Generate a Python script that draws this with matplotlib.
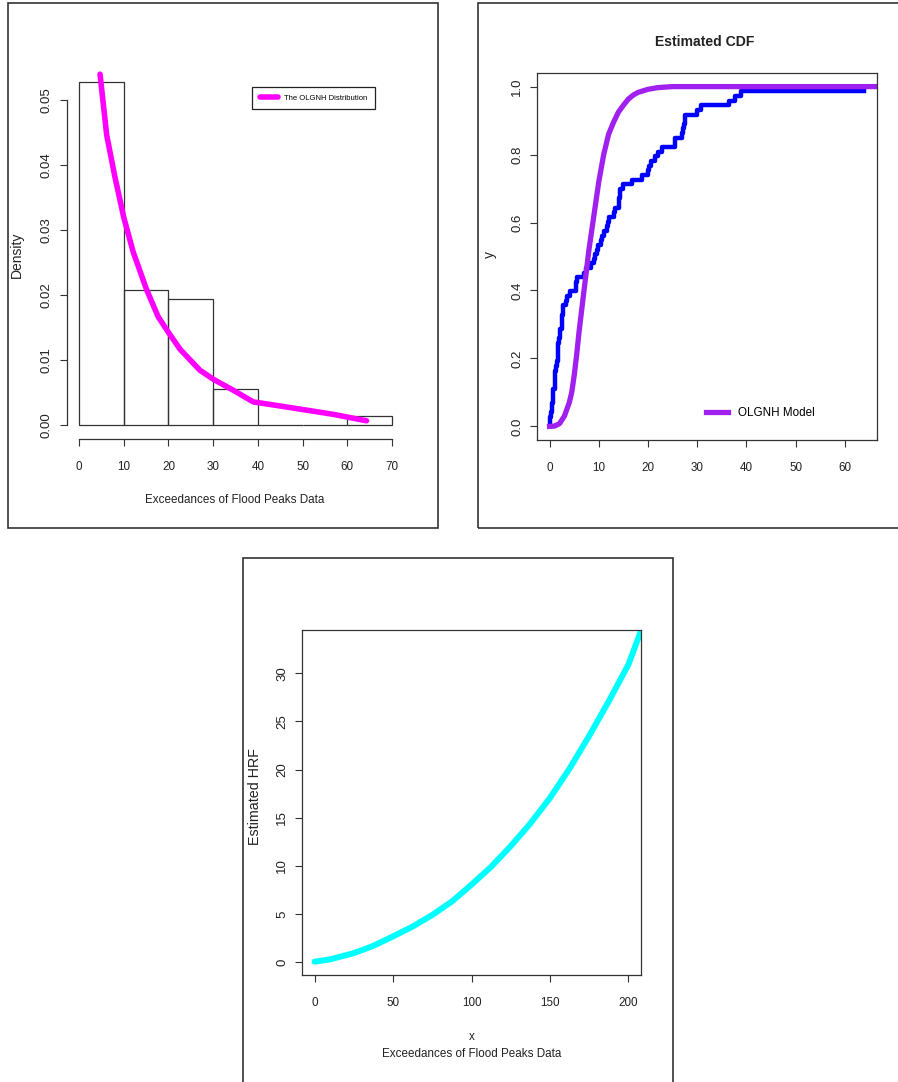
import numpy as np
import matplotlib
matplotlib.use("Agg")
from matplotlib import pyplot as plt
from matplotlib import font_manager
from matplotlib.patches import Rectangle

plt.rcParams['font.family'] = ['Liberation Sans', 'DejaVu Sans']

# exceedances of flood peaks (72 values)
flood = [1.7, 2.2, 14.4, 1.1, 0.4, 20.6, 5.3, 0.7, 1.9, 13.0, 12.0, 9.3,
         1.4, 18.7, 8.5, 25.5, 11.6, 14.1, 22.1, 1.1, 2.5, 14.4, 1.7, 37.6,
         0.6, 2.2, 39.0, 0.3, 15.0, 11.0, 7.3, 22.9, 1.7, 0.1, 1.1, 0.6,
         9.0, 1.7, 7.0, 20.1, 0.4, 2.8, 14.1, 9.9, 10.4, 10.7, 30.0, 3.6,
         5.6, 30.8, 13.3, 4.2, 25.5, 3.4, 11.9, 21.5, 27.6, 36.4, 2.7, 64.0,
         1.5, 2.5, 27.4, 1.0, 27.1, 20.2, 16.8, 5.3, 9.7, 27.5, 2.5, 27.0]
bin_edges = [0, 10, 20, 30, 40, 50, 60, 70]

# fitted density
pdf_x = [4.7, 6.2, 8.0, 10.0, 12.1, 15.1, 17.7, 20.0, 22.6, 27.0, 30.0,
         34.5, 39.0, 41.9, 49.4, 56.8, 64.3]
pdf_y = [0.0540, 0.0446, 0.0383, 0.0320, 0.0267, 0.0209, 0.0167, 0.0143,
         0.0117, 0.0085, 0.0071, 0.0054, 0.0036, 0.0033, 0.0025, 0.0017,
         0.0007]

# fitted CDF
cdf_x = [0, 1, 2, 3, 4, 4.5, 5, 5.5, 6, 6.5, 7, 7.5, 8, 8.5, 9, 9.5, 10,
         11, 12, 13, 14, 15, 16, 17, 18, 20, 22, 25, 70]
cdf_y = [0.0, 0.001, 0.008, 0.03, 0.07, 0.10, 0.15, 0.21, 0.28, 0.34, 0.40,
         0.46, 0.52, 0.57, 0.62, 0.67, 0.72, 0.80, 0.86, 0.895, 0.925,
         0.945, 0.963, 0.975, 0.983, 0.992, 0.997, 1.0, 1.0]

# estimated hazard rate
hrf_x = [0, 10, 25, 37.5, 50, 62.5, 75, 87.5, 100, 112.5, 125, 137.5, 150,
         162.5, 175, 187.5, 200, 208]
hrf_y = [0.05, 0.3, 0.94, 1.7, 2.68, 3.7, 4.9, 6.3, 8.05, 9.9, 12.05, 14.4,
         17.05, 20.1, 23.5, 27.1, 30.9, 34.4]

W, H = 898, 1082
fig = plt.figure(figsize=(W / 100, H / 100), dpi=100)

# horizontal text in the reference looks squeezed, use a narrow face if there is one
names = {f.name for f in font_manager.fontManager.ttflist}
if 'Liberation Sans Narrow' in names:
    NARROW, SQ = 'Liberation Sans Narrow', 1.0
else:
    NARROW, SQ = 'Liberation Sans', 0.84


def rect(x0, y0, x1, y1):
    return [x0 / W, 1 - y1 / H, (x1 - x0) / W, (y1 - y0) / H]


def htext(x, y, s, size, **kw):
    fig.text(x / W, 1 - y / H, s, ha='center', va='center', color='#222222',
             family=NARROW, fontsize=size * SQ, **kw)


def vtext(x, y, s, size):
    fig.text(x / W, 1 - y / H, s, ha='center', va='center', color='#222222',
             fontsize=size, rotation=90)


def style(ax):
    ax.tick_params(length=5, width=0.8, colors='#333333', labelcolor='#222222')
    ax.tick_params(axis='x', labelsize=10 * SQ, labelfontfamily=NARROW, pad=10.5)
    ax.tick_params(axis='y', labelsize=9.5, pad=5)
    for lab in ax.get_yticklabels():
        lab.set_rotation(90)
        lab.set_va('center')
    for s in ax.spines.values():
        s.set_color('#333333')
        s.set_linewidth(0.9)


# panel frames
for (x0, y0, x1, y1) in [(8, 3, 438, 528), (478, 3, 905, 528), (243, 558, 673, 1090)]:
    fig.patches.append(Rectangle((x0 / W, 1 - y1 / H), (x1 - x0) / W, (y1 - y0) / H,
                                 transform=fig.transFigure, fill=False,
                                 edgecolor='#333333', linewidth=1.2))

# ---- histogram + density
ax1 = fig.add_axes(rect(66.5, 69, 404.5, 439))
data = np.array(flood)
counts = [np.sum((data > a) & (data <= b)) for a, b in zip(bin_edges[:-1], bin_edges[1:])]
dens = np.array(counts) / (len(data) * 10.0)
ax1.bar(bin_edges[:-1], dens, width=10, align='edge', fill=False,
        edgecolor='#333333', linewidth=0.9)
ax1.plot(pdf_x, pdf_y, color='#ff00ff', lw=4, solid_capstyle='round',
         label='The OLGNH Distribution')
ax1.set_xlim(-2.8, 72.8)
ax1.set_ylim(-0.0021, 0.0548)
ax1.set_xticks(bin_edges)
ax1.set_yticks([0, 0.01, 0.02, 0.03, 0.04, 0.05])
ax1.set_yticklabels(['0.00', '0.01', '0.02', '0.03', '0.04', '0.05'])
for s in ['top', 'right']:
    ax1.spines[s].set_visible(False)
ax1.spines['left'].set_bounds(0, 0.05)
ax1.spines['bottom'].set_bounds(0, 70)
style(ax1)
leg = ax1.legend(loc='upper right', bbox_to_anchor=(375 / W, 1 - 87 / H),
                 bbox_transform=fig.transFigure,
                 prop={'family': NARROW, 'size': 6.5 * SQ}, frameon=True,
                 fancybox=False, edgecolor='#222222', framealpha=1,
                 borderaxespad=0, borderpad=1.0, handlelength=2.4,
                 handletextpad=0.8)
leg.get_frame().set_linewidth(0.9)
vtext(17, 255, 'Density', 10)
htext(235, 500, 'Exceedances of Flood Peaks Data', 10)

# ---- CDF
ax2 = fig.add_axes(rect(537, 73, 877, 440))
xs = np.sort(data)
ys = np.arange(1, len(xs) + 1) / (len(xs) + 1.0)
ax2.step(xs, ys, where='pre', color='#0000ff', lw=3.2)
ax2.plot(cdf_x, cdf_y, color='#a020f0', lw=3.8, label='OLGNH Model')
ax2.set_xlim(-2.56, 66.56)
ax2.set_ylim(-0.04, 1.04)
ax2.set_xticks([0, 10, 20, 30, 40, 50, 60])
ax2.set_yticks([0, 0.2, 0.4, 0.6, 0.8, 1.0])
ax2.set_yticklabels(['0.0', '0.2', '0.4', '0.6', '0.8', '1.0'])
style(ax2)
ax2.legend(loc='center left', bbox_to_anchor=(706 / W, 1 - 413 / H),
           bbox_transform=fig.transFigure, prop={'family': NARROW, 'size': 10 * SQ},
           frameon=False, borderaxespad=0, borderpad=0, handlelength=1.9,
           handletextpad=0.8)
htext(705, 42, 'Estimated CDF', 12, fontweight='bold')
vtext(490, 255, 'y', 10)

# ---- HRF
ax3 = fig.add_axes(rect(302, 630, 641, 975))
ax3.plot(hrf_x, hrf_y, color='#00ffff', lw=4.3, solid_capstyle='round')
ax3.set_xlim(-8, 208)
ax3.set_ylim(-1.33, 34.48)
ax3.set_xticks([0, 50, 100, 150, 200])
ax3.set_yticks([0, 5, 10, 15, 20, 25, 30])
style(ax3)
vtext(255, 797, 'Estimated HRF', 10.3)
htext(472, 1037, 'x', 10)
htext(472, 1054, 'Exceedances of Flood Peaks Data', 10)

fig.savefig('out.png', dpi=100)
